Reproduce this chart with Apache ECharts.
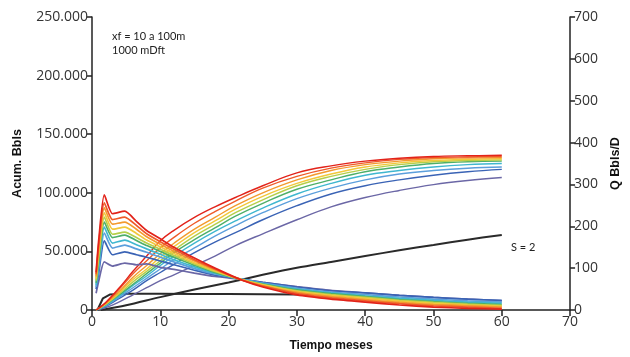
<!DOCTYPE html>
<html>
<head>
<meta charset="utf-8">
<script src="https://cdn.jsdelivr.net/npm/echarts@6/dist/echarts.min.js"></script>
<style>
html,body{margin:0;padding:0;background:#fff;}
#c{width:630px;height:357px;}
</style>
</head>
<body>
<div id="c"></div>
<script>
// Time (months) for the rate curves
var tRate = [0.6, 1.0, 1.8, 3.0, 4.8, 6.5, 8, 10, 12, 15, 18, 22, 25, 30, 35, 40, 45, 50, 55, 60];
// Rate curves Q (Bbls/D), right axis, one per colour (red -> slate)
var qRed      = [90, 170, 275, 230, 236, 212, 190, 170, 150, 124, 100, 71, 55, 36, 26, 19, 12, 7, 4, 2];
var qOrRed    = [85, 160, 256, 216, 222, 202, 182, 163, 145, 120, 98, 71, 57, 39, 29, 22, 15, 10, 7, 4];
var qOrange   = [80, 150, 244, 205, 210, 193, 175, 157, 140, 117, 96, 72, 58, 42, 32, 25, 18, 13, 10, 7];
var qYellow   = [75, 140, 232, 193, 198, 183, 167, 151, 135, 113, 94, 72, 60, 44, 35, 28, 21, 16, 12, 9];
var qYGreen   = [70, 130, 222, 181, 186, 173, 160, 145, 130, 110, 92, 72, 61, 46, 37, 30, 23, 18, 14, 11];
var qGreen    = [65, 120, 210, 173, 179, 166, 154, 140, 126, 107, 90, 72, 62, 48, 39, 32, 25, 20, 16, 13];
var qCyan     = [60, 110, 198, 160, 167, 156, 146, 133, 120, 103, 88, 73, 63, 50, 41, 34, 28, 23, 19, 16];
var qLBlue    = [55, 100, 184, 148, 155, 146, 138, 126, 115, 99, 86, 73, 64, 52, 43, 37, 31, 26, 22, 19];
var qBlue     = [50, 90, 165, 132, 139, 132, 126, 117, 108, 95, 83, 73, 66, 55, 46, 41, 35, 30, 26, 23];
var qSlate    = [40, 70, 115, 105, 112, 108, 110, 102, 97, 88, 80, 73, 66, 56, 47, 41, 35, 30, 26, 22];

// Time (months) for the cumulative curves
var tCum = [0.6, 2, 4, 6, 8, 10, 12, 15, 18, 21, 25, 30, 35, 40, 45, 50, 55, 60];
// Cumulative curves (Bbls), left axis
var cRed    = [0, 6500, 19000, 33000, 46000, 59000, 68000, 79000, 88000, 96000, 106000, 117000, 123000, 127000, 129500, 131000, 131600, 132000];
var cOrRed  = [0, 6000, 18000, 31000, 42000, 53000, 62000, 74000, 84000, 93000, 104000, 114000, 121000, 125500, 128500, 130000, 130600, 131000];
var cOrange = [0, 5500, 16000, 28000, 38000, 48000, 57000, 69000, 79000, 89000, 100000, 111000, 119000, 124000, 127000, 129000, 129700, 130000];
var cYellow = [0, 5000, 15000, 26000, 35000, 45000, 54000, 66000, 76000, 86000, 97000, 108000, 116000, 122000, 125500, 127500, 128500, 129000];
var cYGreen = [0, 5000, 14000, 24000, 33000, 42000, 51000, 63000, 73000, 83000, 94000, 106000, 114000, 120000, 124000, 126500, 127500, 128000];
var cGreen  = [0, 4500, 13000, 22000, 31000, 40000, 49000, 60000, 70000, 80000, 91000, 103000, 111000, 118000, 122000, 125000, 126500, 127000];
var cCyan   = [0, 4000, 12000, 21000, 29000, 38000, 46000, 57000, 67000, 76000, 87000, 99000, 108000, 115000, 119000, 122000, 124000, 125000];
var cLBlue  = [0, 3500, 11000, 19000, 27000, 35000, 43000, 53000, 63000, 72000, 83000, 95000, 104000, 111000, 116000, 119000, 121000, 122000];
var cBlue   = [0, 3000, 10000, 17000, 25000, 32000, 39000, 49000, 58000, 66000, 77000, 89000, 99000, 106000, 111000, 115000, 118000, 120000];
var cSlate  = [0, 2000, 7000, 13000, 19000, 25000, 30000, 38000, 46000, 55000, 65000, 77000, 88000, 96000, 102000, 107000, 110500, 113000];

// Black reference case (S = 2)
var tBlackCum = [1.3, 5, 10, 15, 20, 25, 30, 35, 40, 45, 50, 55, 60];
var cBlack    = [0, 4000, 11000, 17500, 23500, 30000, 36000, 41000, 46000, 51000, 55500, 60000, 64000];
var tBlackQ   = [0.8, 1.6, 2.6, 5, 10, 15, 20, 25, 30, 32];
var qBlack    = [0, 28, 37, 39, 39, 38.5, 38, 37.5, 37, 36];

// Axis ticks
var xTicks = [0, 10, 20, 30, 40, 50, 60, 70];
var leftTicks = [0, 50000, 100000, 150000, 200000, 250000];
var rightTicks = [0, 100, 200, 300, 400, 500, 600, 700];

var colors = ['#e2231a', '#ef5a28', '#f39a2e', '#f2c83a', '#b5cf4a', '#4daf6a', '#3fb7cf', '#5b9fdc', '#3a63b5', '#6b67a6'];
var rateSets = [qRed, qOrRed, qOrange, qYellow, qYGreen, qGreen, qCyan, qLBlue, qBlue, qSlate];
var cumSets = [cRed, cOrRed, cOrange, cYellow, cYGreen, cGreen, cCyan, cLBlue, cBlue, cSlate];

function pairs(xs, ys) { return xs.map(function (x, i) { return [x, ys[i]]; }); }

var series = [];
series.push({type: 'line', yAxisIndex: 1, data: pairs(tBlackQ, qBlack), showSymbol: false, smooth: false,
  lineStyle: {color: '#2a2a2a', width: 2}, z: 1});
series.push({type: 'line', yAxisIndex: 0, data: pairs(tBlackCum, cBlack), showSymbol: false, smooth: 0.3,
  lineStyle: {color: '#2a2a2a', width: 2}, z: 1});
for (var i = cumSets.length - 1; i >= 0; i--) {
  series.push({type: 'line', yAxisIndex: 0, data: pairs(tCum, cumSets[i]), showSymbol: false, smooth: 0.4,
    lineStyle: {color: colors[i], width: 1.4}, z: 2});
}
for (var j = rateSets.length - 1; j >= 0; j--) {
  series.push({type: 'line', yAxisIndex: 1, data: pairs(tRate, rateSets[j]), showSymbol: false, smooth: 0.2,
    lineStyle: {color: colors[j], width: 1.7}, z: 3});
}

var tickFont = {color: '#333', fontFamily: '"Open Sans", "Liberation Sans", sans-serif', fontSize: 14};
var axisLine = {show: true, lineStyle: {color: '#222', width: 1.5}};

var chart = echarts.init(document.getElementById('c'), null, {renderer: 'canvas'});
chart.setOption({
  animation: false,
  backgroundColor: '#fff',
  grid: {left: 92, right: 55, top: 17, bottom: 47, containLabel: false},
  xAxis: {
    type: 'value', min: xTicks[0], max: xTicks[xTicks.length - 1], interval: 10,
    name: 'Tiempo meses', nameLocation: 'middle', nameGap: 30,
    nameTextStyle: {fontFamily: '"Liberation Sans", sans-serif', fontWeight: 'bold', fontSize: 12, color: '#111'},
    axisLine: axisLine, axisTick: {show: true, length: 6, lineStyle: {color: '#222', width: 1.5}},
    axisLabel: Object.assign({margin: 5}, tickFont), splitLine: {show: false}
  },
  yAxis: [{
    type: 'value', position: 'left', min: leftTicks[0], max: leftTicks[leftTicks.length - 1], interval: 50000,
    name: 'Acum. Bbls', nameLocation: 'middle', nameGap: 68, nameRotate: 90,
    nameTextStyle: {fontFamily: '"Liberation Sans", sans-serif', fontWeight: 'bold', fontSize: 12.5, color: '#111'},
    axisLine: axisLine, axisTick: {show: true, length: 5, lineStyle: {color: '#222', width: 1.5}},
    axisLabel: Object.assign({margin: 4, formatter: function (v) {
      if (v === 0) return '0';
      var s = String(v);
      return s.replace(/\B(?=(\d{3})+(?!\d))/g, '.');
    }}, tickFont),
    splitLine: {show: false}
  }, {
    type: 'value', position: 'right', min: rightTicks[0], max: rightTicks[rightTicks.length - 1], interval: 100,
    name: 'Q Bbls/D', nameLocation: 'middle', nameGap: 38, nameRotate: 90,
    nameTextStyle: {fontFamily: '"Liberation Sans", sans-serif', fontWeight: 'bold', fontSize: 12.5, color: '#111'},
    axisLine: axisLine, axisTick: {show: true, length: 5, lineStyle: {color: '#222', width: 1.5}},
    axisLabel: Object.assign({margin: 4}, tickFont),
    splitLine: {show: false}
  }],
  graphic: [
    {type: 'text', left: 112, top: 31, style: {text: 'xf = 10 a 100m', fontSize: 11, fontFamily: 'Lato, "Liberation Sans", sans-serif', fill: '#222'}},
    {type: 'text', left: 112, top: 45, style: {text: '1000 mDft', fontSize: 11, fontFamily: 'Lato, "Liberation Sans", sans-serif', fill: '#222'}},
    {type: 'text', left: 511, top: 242, style: {text: 'S = 2', fontSize: 11, fontFamily: 'Lato, "Liberation Sans", sans-serif', fill: '#222'}}
  ],
  series: series
});
</script>
</body>
</html>
